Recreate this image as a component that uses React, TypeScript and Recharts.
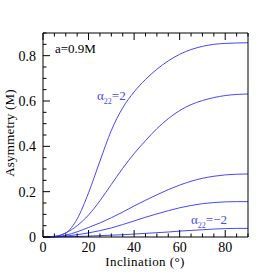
import React from "react";
import { LineChart, Line, XAxis, YAxis } from "recharts";

document.body.style.margin = "0";

const inclination = [0, 5, 10, 15, 20, 25, 30, 35, 40, 45, 50, 55, 60, 65, 70, 75, 80, 85, 90];
const alphaPlus2 = [0, 0.003, 0.018, 0.08, 0.195, 0.335, 0.47, 0.57, 0.64, 0.695, 0.74, 0.777, 0.806, 0.827, 0.841, 0.85, 0.854, 0.856, 0.857];
const curve2 = [0, 0.002, 0.018, 0.05, 0.097, 0.16, 0.232, 0.303, 0.368, 0.425, 0.478, 0.522, 0.558, 0.584, 0.602, 0.615, 0.624, 0.629, 0.631];
const curve3 = [0, 0.001, 0.008, 0.023, 0.042, 0.062, 0.085, 0.11, 0.137, 0.162, 0.186, 0.209, 0.229, 0.246, 0.259, 0.268, 0.274, 0.277, 0.278];
const curve4 = [0, 0.0005, 0.004, 0.01, 0.018, 0.028, 0.04, 0.055, 0.071, 0.087, 0.102, 0.116, 0.129, 0.139, 0.147, 0.152, 0.155, 0.156, 0.156];
const alphaMinus2 = [0, 0.0003, 0.001, 0.002, 0.004, 0.006, 0.008, 0.01, 0.013, 0.016, 0.019, 0.022, 0.026, 0.029, 0.032, 0.035, 0.037, 0.038, 0.038];

const xTicks = [0, 5, 10, 15, 20, 25, 30, 35, 40, 45, 50, 55, 60, 65, 70, 75, 80, 85, 90];
const yTicks = [0, 0.05, 0.1, 0.15, 0.2, 0.25, 0.3, 0.35, 0.4, 0.45, 0.5, 0.55, 0.6, 0.65, 0.7, 0.75, 0.8, 0.85, 0.9];

const data = inclination.map((x, i) => ({
  x,
  c1: alphaPlus2[i],
  c2: curve2[i],
  c3: curve3[i],
  c4: curve4[i],
  c5: alphaMinus2[i],
}));

const BLUE = "#4646ff";
const FONT = "'Liberation Serif', serif";

const xMajor = (v: number) => v % 20 === 0;
const yMajor = (v: number) => Math.round(v * 100) % 20 === 0;

const BottomTick = (p: any) => {
  const v = p.payload.value;
  const m = xMajor(v);
  return (
    <g>
      <line x1={p.x} x2={p.x} y1={p.y} y2={p.y - (m ? 7 : 3.5)} stroke="#000" />
      {m && v < 90 && (
        <text x={p.x} y={p.y + 15} textAnchor="middle" fontSize={14} fill="#000">
          {v}
        </text>
      )}
    </g>
  );
};

const TopTick = (p: any) => {
  const m = xMajor(p.payload.value);
  return <line x1={p.x} x2={p.x} y1={p.y} y2={p.y + (m ? 7 : 3.5)} stroke="#000" />;
};

const LeftTick = (p: any) => {
  const v = p.payload.value;
  const m = yMajor(v);
  return (
    <g>
      <line x1={p.x} x2={p.x + (m ? 7 : 3.5)} y1={p.y} y2={p.y} stroke="#000" />
      {m && v < 0.85 && (
        <text x={p.x - 7} y={p.y + 5} textAnchor="end" fontSize={14} fill="#000">
          {v === 0 ? "0" : v.toFixed(1)}
        </text>
      )}
    </g>
  );
};

const RightTick = (p: any) => {
  const m = yMajor(p.payload.value);
  return <line x1={p.x} x2={p.x - (m ? 7 : 3.5)} y1={p.y} y2={p.y} stroke="#000" />;
};

export default function App() {
  const series = ["c1", "c2", "c3", "c4", "c5"];
  return (
    <div style={{ position: "relative", width: 280, height: 280, background: "#fff", fontFamily: FONT }}>
      <LineChart width={280} height={280} data={data} margin={{ top: 31, right: 30, bottom: 13, left: 13 }}>
        <XAxis dataKey="x" type="number" domain={[0, 90]} ticks={xTicks} interval={0} height={30}
          tickSize={0} tickMargin={0} tick={BottomTick} axisLine={{ stroke: "#000" }} tickLine={false} />
        <XAxis xAxisId="top" orientation="top" dataKey="x" type="number" domain={[0, 90]} ticks={xTicks} interval={0}
          height={2} tickSize={0} tickMargin={0} tick={TopTick} axisLine={{ stroke: "#000" }} tickLine={false} />
        <YAxis type="number" domain={[0, 0.9]} ticks={yTicks} interval={0} width={30}
          tickSize={0} tickMargin={0} tick={LeftTick} axisLine={{ stroke: "#000" }} tickLine={false} />
        <YAxis yAxisId="right" orientation="right" type="number" domain={[0, 0.9]} ticks={yTicks} interval={0} width={2}
          tickSize={0} tickMargin={0} tick={RightTick} axisLine={{ stroke: "#000" }} tickLine={false} />
        {series.map((k) => (
          <Line key={k} dataKey={k} type="monotone" stroke={BLUE} strokeWidth={1} dot={false} isAnimationActive={false} />
        ))}
      </LineChart>
      <div style={{ position: "absolute", left: 55, top: 41, fontSize: 13, color: "#000" }}>a=0.9M</div>
      <div style={{ position: "absolute", left: 97, top: 88, fontSize: 13, color: BLUE }}>
        α<sub style={{ fontSize: 8 }}>22</sub>=2
      </div>
      <div style={{ position: "absolute", left: 191, top: 212, fontSize: 13, color: BLUE }}>
        α<sub style={{ fontSize: 8 }}>22</sub>=−2
      </div>
      <div style={{ position: "absolute", left: 145, top: 262, transform: "translate(-50%, -50%)", fontSize: 13, whiteSpace: "nowrap", letterSpacing: 0.4 }}>
        Inclination (°)
      </div>
      <div style={{ position: "absolute", left: 10, top: 133, transform: "translate(-50%, -50%) rotate(-90deg)", fontSize: 13, whiteSpace: "nowrap", letterSpacing: 0.2 }}>
        Asymmetry (M)
      </div>
    </div>
  );
}
